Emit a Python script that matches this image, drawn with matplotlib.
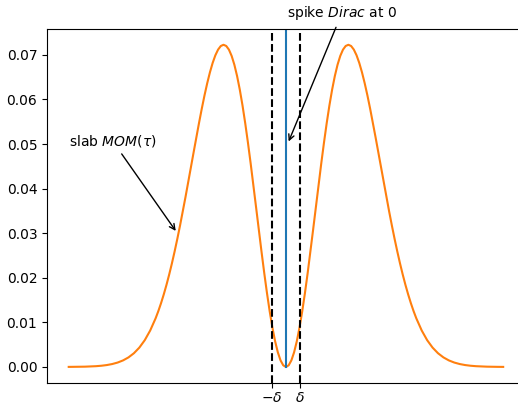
import matplotlib
matplotlib.use("Agg")
import matplotlib.pyplot as plt

# half of the slab curve (x >= 0), mirrored below
x_half = [0, 0.25, 0.5, 0.75, 1, 1.25, 1.5, 1.75, 2, 2.25, 2.5, 2.75, 3, 3.25, 3.5, 3.75,
          4, 4.25, 4.5, 4.75, 5, 5.25, 5.5, 5.75, 6, 6.25, 6.5, 6.75, 7, 7.25, 7.5, 7.75,
          8, 8.25, 8.5, 8.75, 9, 9.25, 9.5, 9.75, 10, 10.25, 10.5, 10.75, 11, 11.25,
          11.5, 11.75, 12, 12.5, 13, 13.5, 14, 14.5, 15, 15.5, 16, 16.5, 17, 17.5,
          18, 18.5, 19, 19.5, 20]
y_half = [0.0, 0.000371, 0.001477, 0.003292, 0.005775, 0.008871, 0.012510, 0.016613,
          0.021091, 0.025848, 0.030784, 0.035796, 0.040785, 0.045650, 0.050305, 0.054661,
          0.058648, 0.062196, 0.065253, 0.067787, 0.069762, 0.071168, 0.071997, 0.072262,
          0.071983, 0.071178, 0.069899, 0.068186, 0.066074, 0.063629, 0.060901, 0.057928,
          0.054777, 0.051513, 0.048158, 0.044780, 0.041416, 0.038101, 0.034870, 0.031744,
          0.028750, 0.025909, 0.023231, 0.020733, 0.018409, 0.016272, 0.014311, 0.012524,
          0.010911, 0.008171, 0.006005, 0.004334, 0.003073, 0.002140, 0.001465, 0.000985,
          0.000651, 0.000423, 0.000270, 0.000170, 0.000105, 0.0000638, 0.0000381,
          0.0000224, 0.0000130]

x_slab = [-v for v in x_half[:0:-1]] + x_half
y_slab = y_half[:0:-1] + y_half

delta = 1.32
tick_labels = [r"$-\delta$", r"$\delta$"]

fig = plt.figure(figsize=(5.18, 4.04), dpi=100)
ax = fig.add_axes([47/518, 21/404, 479/518, 354/404])

ax.plot(x_slab, y_slab, c="C1")
ax.axvline(-delta, color="k", linestyle="--")
ax.axvline(delta, color="k", linestyle="--")
ax.set_xlim(-22, 22.1)
ax.set_ylim(-0.0036, 0.0758)
ax.plot([0, 0], [0, 0.08], c="C0")

ax.set_xticks([-delta, delta])
ax.set_xticklabels(tick_labels)
ax.tick_params(axis="x", pad=2.5)

ax.annotate(r"spike $\it{Dirac}$ at 0", xy=(0.15, 0.05), xytext=(0.1, 0.0785),
            arrowprops=dict(arrowstyle="->", color="k"), annotation_clip=False)
ax.annotate(r"slab $MOM(\tau)$", xy=(-10, 0.03), xytext=(-20, 0.0497),
            arrowprops=dict(arrowstyle="->", color="k"))

fig.savefig("out.png", dpi=100)
